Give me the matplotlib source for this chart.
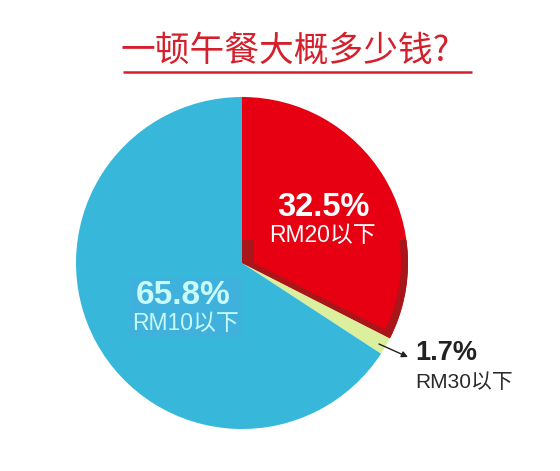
import matplotlib
matplotlib.use("Agg")
import matplotlib.pyplot as plt
from matplotlib.patches import Wedge, Rectangle
import numpy as np

# ---- data ----
title = "一顿午餐大概多少钱?"
categories = ["RM20以下", "RM30以下", "RM10以下"]
values = [32.5, 1.7, 65.8]
pct_labels = ["32.5%", "1.7%", "65.8%"]
colors = ["#e60012", "#dcef9c", "#37b8db"]

W, H = 560, 471
fig = plt.figure(figsize=(W / 100, H / 100), dpi=100)
ax = fig.add_axes([0, 0, 1, 1])

def Y(py):
    return H - py

cx, cy, r = 242, Y(263), 166

wedges, _ = ax.pie(values, colors=colors, startangle=90, counterclock=False,
                   center=(cx, cy), radius=r, wedgeprops=dict(linewidth=0))

# dark-red frame effect on the lower part of the red slice
red = wedges[0]
t1, t2 = red.theta1, red.theta2
clip = Rectangle((0, 0), W, Y(240), transform=ax.transData)
dark = Wedge((cx, cy), r, t1, t2, facecolor="#a8161a", linewidth=0, zorder=3)
ax.add_patch(dark)
dark.set_clip_path(clip)
inner = Wedge((cx + 12, cy), r - 19, t1, t2, facecolor="#e60012", linewidth=0, zorder=4)
ax.add_patch(inner)
inner.set_clip_path(clip)

# subtle box behind the blue label
ax.add_patch(Rectangle((130, Y(337)), 112, 60, facecolor="#3fb1dc", linewidth=0, zorder=2))

fam = ["Liberation Sans", "Noto Sans CJK SC", "DejaVu Sans"]

# title
ax.text(285, Y(51), title, ha="center", va="center", fontsize=25, color="#d4202c",
        fontweight="medium", family=["Noto Sans CJK SC", "DejaVu Sans"], zorder=5)
ax.plot([123, 472], [Y(71.5), Y(71.5)], color="#d4202c", lw=1.8, solid_capstyle="butt")

# red label
ax.text(323, Y(207), pct_labels[0], ha="center", va="center", fontsize=23.5,
        fontweight="bold", color="white", family=fam, zorder=6)
ax.text(322, Y(235), categories[0], ha="center", va="center", fontsize=16.5,
        color="white", family=fam, zorder=6)

# blue label
ax.text(183, Y(295), pct_labels[2], ha="center", va="center", fontsize=24,
        fontweight="bold", color="#c9fbfb", family=fam, zorder=6)
ax.text(186, Y(323), categories[2], ha="center", va="center", fontsize=16.5,
        color="#c9fbfb", family=fam, zorder=6)

# small slice label with arrow
ax.annotate("", xy=(408, Y(357)), xytext=(379, Y(344)),
            arrowprops=dict(arrowstyle="-|>", color="#222222", lw=1.0,
                            mutation_scale=9, shrinkA=0, shrinkB=0), zorder=6)
ax.text(415, Y(353), pct_labels[1], ha="left", va="center", fontsize=19.5,
        fontweight="bold", color="#222222", family=fam, zorder=6)
ax.text(415, Y(383), categories[1], ha="left", va="center", fontsize=15,
        color="#2a2a2a", family=fam, zorder=6)

ax.set_xlim(0, W)
ax.set_ylim(0, H)
ax.set_aspect("auto")
ax.axis("off")
fig.savefig("out.png", dpi=100, facecolor="white")
